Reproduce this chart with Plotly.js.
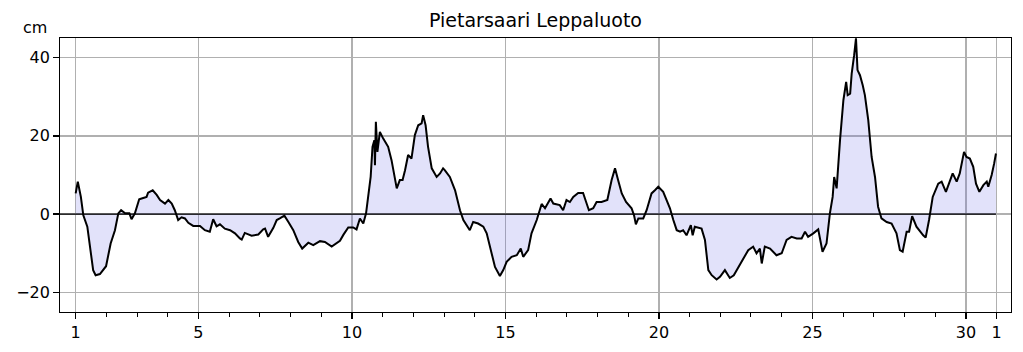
<!DOCTYPE html>
<html>
<head>
<meta charset="utf-8">
<script src="https://cdn.plot.ly/plotly-3.0.1.min.js"></script>
<style>html,body{margin:0;padding:0;background:#fff;}#chart{width:1023px;height:352px;}</style>
</head>
<body>
<div id="chart"></div>
<script>
// Day offset from the start of day 1 (fractional days)
const dayOffset = [
  0.00,0.07,0.17,0.25,0.38,0.47,0.57,0.65,0.79,0.99,1.14,1.28,1.39,1.48,1.61,1.75,1.82,1.93,
  2.07,2.15,2.31,2.36,2.51,2.64,2.75,2.91,3.02,3.13,3.23,3.34,3.45,3.56,3.67,3.83,4.05,4.21,
  4.37,4.48,4.59,4.70,4.86,5.03,5.19,5.35,5.41,5.51,5.73,5.95,6.11,6.17,6.27,6.44,6.55,6.65,
  6.80,6.93,7.09,7.25,7.38,7.58,7.74,7.96,8.12,8.34,8.50,8.61,8.72,8.88,9.04,9.15,9.26,9.37,
  9.46,9.53,9.61,9.67,9.73,9.75,9.78,9.83,9.91,10.02,10.18,10.29,10.40,10.46,10.56,10.65,10.73,
  10.83,10.94,11.05,11.16,11.27,11.32,11.40,11.48,11.60,11.76,11.87,11.97,12.03,12.19,12.36,
  12.52,12.63,12.84,12.95,13.11,13.28,13.39,13.50,13.66,13.82,13.93,14.04,14.20,14.37,14.50,
  14.58,14.74,14.85,15.02,15.18,15.29,15.47,15.56,15.77,15.88,15.99,16.10,16.21,16.37,16.53,
  16.72,16.86,16.97,17.13,17.32,17.46,17.57,17.67,17.79,17.93,18.11,18.19,18.25,18.33,18.49,
  18.60,18.76,18.87,18.98,19.14,19.25,19.36,19.47,19.58,19.69,19.79,19.90,20.04,20.10,20.17,
  20.39,20.50,20.61,20.72,20.88,20.99,21.15,21.31,21.44,21.64,21.80,21.91,22.07,22.18,22.29,
  22.35,22.45,22.62,22.83,23.00,23.16,23.32,23.49,23.65,23.76,23.86,24.03,24.19,24.33,24.46,
  24.57,24.66,24.71,24.79,24.90,25.01,25.10,25.15,25.23,25.28,25.36,25.42,25.47,25.55,25.64,
  25.71,25.82,25.93,26.04,26.14,26.25,26.42,26.58,26.74,26.85,26.94,27.07,27.15,27.25,27.39,
  27.61,27.69,27.80,27.92,28.10,28.21,28.35,28.48,28.57,28.70,28.80,28.94,29.02,29.13,29.24,
  29.33,29.44,29.57,29.68,29.73,29.84,29.92,29.98
];
// Sea level, cm
const level = [
  5.3,8.3,4.4,-0.3,-3.2,-8.3,-14.3,-15.6,-15.3,-13.3,-7.5,-4.1,0.2,1.0,0.2,0.2,-1.3,0.2,
  3.8,4.0,4.4,5.5,6.1,4.9,3.6,2.7,3.6,2.7,1.0,-1.5,-0.8,-1.1,-2.2,-3.0,-3.0,-4.1,
  -4.5,-1.3,-3.1,-2.6,-3.7,-4.1,-4.9,-6.2,-6.5,-4.8,-5.5,-5.2,-3.9,-3.7,-5.8,-3.5,-1.5,-1.1,
  -0.4,-2.0,-4.1,-7.1,-8.8,-7.3,-7.9,-6.9,-7.1,-8.3,-7.4,-6.8,-5.3,-3.4,-3.4,-3.9,-1.1,-2.4,
  0.2,4.4,9.5,17.2,18.9,12.5,23.6,15.9,21.0,19.3,17.2,13.8,9.5,6.6,8.7,8.7,11.2,
  15.1,14.2,20.2,22.7,23.2,25.3,22.7,17.2,11.7,9.5,10.4,11.7,11.2,9.5,6.1,
  1.0,-1.5,-4.1,-2.0,-2.4,-3.2,-4.9,-8.3,-13.5,-15.8,-14.3,-12.2,-10.9,-10.5,-8.8,
  -10.9,-9.2,-4.9,-1.5,2.6,1.5,4.0,2.7,2.3,1.0,3.6,3.1,4.4,5.4,5.4,
  1.0,1.5,3.1,3.1,3.6,8.7,11.7,8.7,5.3,3.1,1.5,-0.3,-2.6,-1.1,-1.1,
  1.0,5.3,6.1,7.0,5.7,3.8,1.5,-1.5,-4.1,-4.5,-4.1,-5.4,-2.8,-5.4,-3.2,
  -3.7,-6.6,-14.3,-15.6,-16.7,-16.0,-14.3,-16.3,-15.6,-13.0,-10.9,-9.2,-8.3,-10.0,-8.8,
  -12.6,-8.3,-8.8,-10.5,-10.0,-6.6,-5.8,-6.2,-6.2,-4.5,-5.8,-4.9,-3.9,-9.6,-7.5,
  0.2,4.4,9.5,6.6,18.9,29.1,33.8,30.4,30.8,35.9,40.6,44.9,36.8,35.5,32.9,
  30.4,24.0,14.6,9.5,1.9,-1.1,-2.0,-2.4,-4.9,-9.2,-9.6,-4.5,-4.5,-0.5,-3.2,
  -5.4,-6.0,-1.5,4.4,7.8,8.3,5.7,8.3,10.4,8.3,10.4,15.9,14.6,14.2,12.1,
  7.8,5.7,7.4,8.3,7.0,10.0,12.9,15.5
];
const tickValues = [1,5,10,15,20,25,30,31];
const tickLabels = ['1','5','10','15','20','25','30','1'];
const yTicks = [-20,0,20,40];
const titleText = 'Pietarsaari Leppaluoto';
const unitLabel = 'cm';

const day = dayOffset.map(d => 1 + d);
const minorTicks = [];
for (let d = 2; d <= 30; d++) if (!tickValues.includes(d)) minorTicks.push(d);

const xRange = [0.49, 31.47];
const axisCommon = {
  showline: true, mirror: true, linecolor: '#000', linewidth: 1.3,
  ticks: 'outside', ticklen: 5.6, tickwidth: 1.3, tickcolor: '#000',
  showgrid: true, gridcolor: '#b0b0b0', gridwidth: 1.3, zeroline: false,
  tickfont: {family: 'DejaVu Sans', size: 16, color: '#000'}
};

const traces = [{
  type: 'scatter', mode: 'lines', x: day, y: level,
  line: {color: '#000', width: 2},
  fill: 'tozeroy', fillcolor: 'rgba(110,110,230,0.2)',
  hoverinfo: 'skip'
}];

const layout = {
  width: 1023, height: 352,
  margin: {l: 60, r: 12, t: 38, b: 40},
  paper_bgcolor: '#fff', plot_bgcolor: '#fff',
  font: {family: 'DejaVu Sans', size: 16, color: '#000'},
  showlegend: false,
  title: {text: titleText, font: {family: 'DejaVu Sans', size: 19, color: '#000'},
          x: 0.5, xref: 'paper', y: 1 - 20.5/352, yref: 'container', yanchor: 'middle'},
  xaxis: Object.assign({}, axisCommon, {
    range: xRange, tickmode: 'array', tickvals: tickValues, ticktext: tickLabels,
    minor: {tickmode: 'array', tickvals: minorTicks, ticklen: 3.2, tickwidth: 1, tickcolor: '#000', showgrid: false, ticks: 'outside'}
  }),
  yaxis: Object.assign({}, axisCommon, {
    range: [-25, 45], tickmode: 'array', tickvals: yTicks
  }),
  shapes: [{
    type: 'line', xref: 'x', yref: 'y', x0: xRange[0], x1: day[day.length - 1], y0: 0, y1: 0,
    line: {color: '#000', width: 1.3}, layer: 'above'
  }],
  annotations: [{
    text: unitLabel, xref: 'paper', yref: 'paper', x: (35 - 60) / 951, y: (312 - 27.5) / 274,
    xanchor: 'center', yanchor: 'middle', showarrow: false,
    font: {family: 'DejaVu Sans', size: 16, color: '#000'}
  }]
};

Plotly.newPlot('chart', traces, layout, {staticPlot: true, displayModeBar: false});
</script>
</body>
</html>
